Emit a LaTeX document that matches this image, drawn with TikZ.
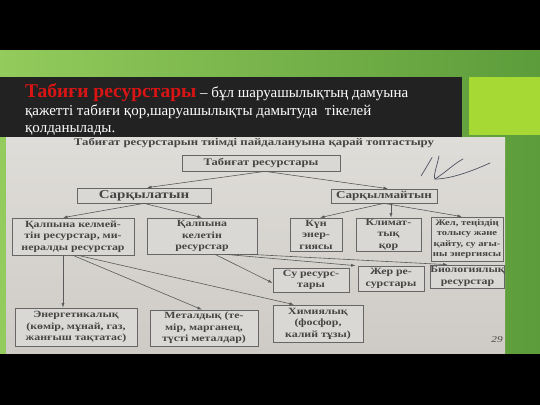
\documentclass[tikz,border=0pt]{standalone}
\usepackage{fontspec}
\setmainfont{Liberation Serif}
\newfontfamily\bookfont[FakeStretch=1.25]{Liberation Serif}
\usetikzlibrary{arrows.meta}
\definecolor{gleft}{HTML}{93CB5C}
\definecolor{gright}{HTML}{5C9C3A}
\definecolor{limesq}{HTML}{A6D934}
\definecolor{boxdark}{HTML}{222222}
\definecolor{paperT}{HTML}{DFDDD9}
\definecolor{paperB}{HTML}{CECBC6}
\definecolor{boxfill}{HTML}{DAD8D4}
\definecolor{boxline}{HTML}{666666}
\definecolor{ink}{HTML}{454545}
\definecolor{arrline}{HTML}{5A5A5A}
\definecolor{titlered}{HTML}{D81414}
\definecolor{pen}{HTML}{4E5060}
\tikzset{
  bx/.style={draw=boxline, line width=0.7pt, fill=boxfill, inner sep=0pt, align=center, text=ink,
    font=\bookfont\bfseries\fontsize{9.5}{11.5}\selectfont},
  arr/.style={draw=arrline, line width=0.6pt, -{Latex[length=4.5pt,width=3pt]}},
  wline/.style={anchor=base west, inner sep=0pt, text=white, font=\fontsize{15}{17}\selectfont}
}
\begin{document}
\begin{tikzpicture}[x=1pt,y=-1pt]
\useasboundingbox (0,0) rectangle (540,405);
\fill[black] (0,0) rectangle (540,405);
\shade[left color=gleft,right color=gright] (0,50) rectangle (540,353);
\fill[limesq] (469,77) rectangle (540,135);
\fill[boxdark] (0,77) rectangle (462,137);
\shade[top color=paperT,bottom color=paperB] (6,137) rectangle (505,353);

% heading text
\node[wline] (t1) at (25,97) {{\color{titlered}\fontsize{19.5}{19.5}\selectfont\bfseries Табиғи ресурстары} – бұл шаруашылықтың дамуына};
\node[wline] (t2) at (25,115) {қажетті табиғи қор,шаруашылықты дамытуда\ \ тікелей};
\node[wline] (t3) at (25,132) {қолданылады.};

% diagram title
\node[inner sep=0pt, text=ink, font=\bookfont\bfseries\fontsize{10.2}{11}\selectfont] (title) at (254,143) {Табиғат ресурстарын тиімді пайдалануына қарай топтастыру};

% boxes
\node[bx, minimum width=158pt, minimum height=16pt, font=\bookfont\bfseries\fontsize{10}{12}\selectfont] (A) at (261,163) {Табиғат ресурстары};
\node[bx, minimum width=134pt, minimum height=15pt, font=\bookfont\bfseries\fontsize{12}{13}\selectfont] (B) at (144,195.5) {Сарқылатын};
\node[bx, minimum width=106pt, minimum height=14pt, font=\bookfont\bfseries\fontsize{10.5}{12}\selectfont] (C) at (384,196) {Сарқылмайтын};
\node[bx, minimum width=122pt, minimum height=37pt] (D) at (73,236.5) {Қалпына келмей-\\тін ресурстар, ми-\\нералды ресурстар};
\node[bx, minimum width=110pt, minimum height=36pt] (E) at (202,236) {Қалпына\\келетін\\ресурстар};
\node[bx, minimum width=52pt, minimum height=33pt] (F) at (316,234.5) {Күн\\энер-\\гиясы};
\node[bx, minimum width=65pt, minimum height=33pt] (G) at (388.5,234.5) {Климат-\\тық\\қор};
\node[bx, minimum width=72pt, minimum height=44pt, font=\bookfont\bfseries\fontsize{8.5}{10.5}\selectfont] (H) at (467,239) {Жел, теңіздің\\толысу және\\қайту, су ағы-\\ны энергиясы};
\node[bx, minimum width=76pt, minimum height=24pt] (I) at (311,280) {Су ресурс-\\тары};
\node[bx, minimum width=66pt, minimum height=25pt] (J) at (391,278.5) {Жер ре-\\сурстары};
\node[bx, minimum width=73pt, minimum height=23pt] (K) at (467.5,276.5) {Биологиялық\\ресурстар};
\node[bx, minimum width=122pt, minimum height=38pt] (L) at (76,327) {Энергетикалық\\(көмір, мұнай, газ,\\жанғыш тақтатас)};
\node[bx, minimum width=108pt, minimum height=36pt] (M) at (204,328) {Металдық (те-\\мір, марганец,\\түсті металдар)};
\node[bx, minimum width=90pt, minimum height=37pt] (N) at (318,323.5) {Химиялық\\(фосфор,\\калий тұзы)};

% connectors
\draw[arr] ([xshift=4pt]A.south) -- ([xshift=3pt]B.north);
\draw[arr] ([xshift=4pt]A.south) -- ([xshift=4pt]C.north);
\draw[arr] (B.south) -- ([xshift=-10pt]D.north);
\draw[arr] (B.south) -- (E.north);
\draw[arr] (C.south) -- ([xshift=4pt]F.north);
\draw[arr] ([xshift=7pt]C.south) -- ([xshift=2.5pt]G.north);
\draw[arr] (C.south) -- ([xshift=-5pt]H.north);
\draw[arr] ([xshift=-10pt]D.south) -- ([xshift=-13pt]L.north);
\draw[arr] (D.south) -- ([xshift=-2pt]M.north);
\draw[arr] ([xshift=5pt]D.south) -- ([xshift=-24pt]N.north);
\draw[arr] ([xshift=13pt]E.south) -- ([yshift=-3pt]I.west);
\draw[arr] ([xshift=23pt]E.south) -- ([xshift=-2pt]J.north west);
\draw[arr] ([xshift=48pt]E.south) -- ([xshift=-20pt]K.north);

% handwritten mark
\draw[pen, line width=0.7pt, line cap=round] (421,176) .. controls (426,168) and (430,161) .. (432,157.5);
\draw[pen, line width=0.7pt, line cap=round] (439,156) .. controls (437,166) and (433,176) .. (435,179) .. controls (446,172) and (455,163) .. (463,159);
\draw[pen, line width=0.7pt, line cap=round] (435,179) .. controls (450,179) and (470,172) .. (490,163);

% page number
\node[inner sep=0pt, text=ink, font=\bookfont\itshape\fontsize{9}{10}\selectfont] (pg) at (497,340) {29};
\end{tikzpicture}
\end{document}
